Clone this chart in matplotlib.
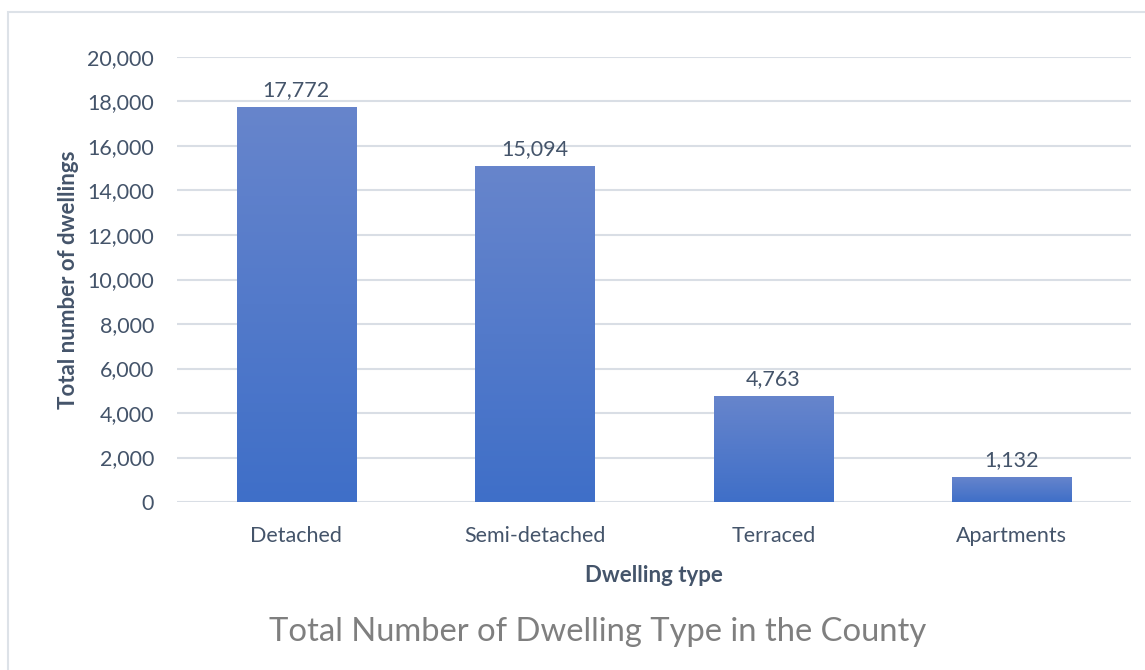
import matplotlib.pyplot as plt
import matplotlib.patches as mpatches
from matplotlib.colors import LinearSegmentedColormap
from matplotlib.ticker import FuncFormatter
import numpy as np

plt.rcParams['font.family'] = ['Lato', 'DejaVu Sans']

# data
categories = ['Detached', 'Semi-detached', 'Terraced', 'Apartments']
dwellings = [17772, 15094, 4763, 1132]

text_col = '#44546A'
grid_col = '#D9DEE5'

fig = plt.figure(figsize=(11.45, 6.7), dpi=100)
ax = fig.add_axes([177/1145, 1-502/670, (1131-177)/1145, (502-57)/670])

# outer frame of the chart area
fig.patches.append(mpatches.Rectangle((7.5/1145, -0.1), 1.2, 1-11.5/670+0.1,
                                      transform=fig.transFigure, fill=False,
                                      edgecolor='#DDE2E8', linewidth=1.5))

x = np.arange(len(categories))
bars = ax.bar(x, dwellings, width=0.5, color='#5279CA', zorder=2)

# vertical gradient in each bar (light on top, darker at the bottom)
cmap = LinearSegmentedColormap.from_list('g', ['#3F6FC8', '#6785CC'])
grad = np.linspace(0, 1, 256).reshape(-1, 1)
for b in bars:
    x0, y0 = b.get_x(), b.get_y()
    im = ax.imshow(grad, cmap=cmap, origin='lower', aspect='auto',
                   extent=[x0, x0 + b.get_width(), y0, y0 + b.get_height()],
                   zorder=3)
    im.set_clip_path(b)

for xi, v in zip(x, dwellings):
    ax.text(xi, v + 300, '{:,}'.format(v), ha='center', va='bottom',
            fontsize=15.5, color=text_col)

ax.set_xlim(-0.5, len(categories) - 0.5)
ax.set_ylim(0, 20000)
ax.set_yticks(range(0, 20001, 2000))
ax.yaxis.set_major_formatter(FuncFormatter(lambda v, p: '{:,.0f}'.format(v)))
ax.set_xticks(x)
ax.set_xticklabels(categories)
ax.tick_params(axis='both', length=0, labelsize=15.5, colors=text_col)
ax.tick_params(axis='x', pad=17)
ax.tick_params(axis='y', pad=16.5)

ax.grid(axis='y', color=grid_col, linewidth=1.5, zorder=0)
ax.set_axisbelow(True)
for s in ax.spines.values():
    s.set_visible(False)

ax.set_xlabel('Dwelling type', fontsize=16, fontweight='bold', color=text_col, labelpad=14)
ax.set_ylabel('Total number of dwellings', fontsize=16, fontweight='bold', color=text_col, labelpad=6)

fig.text(598/1145, 1-632/670, 'Total Number of Dwelling Type in the County',
         ha='center', va='center', fontsize=23.6, color='#7F7F7F')

plt.savefig('out.png', dpi=100)
